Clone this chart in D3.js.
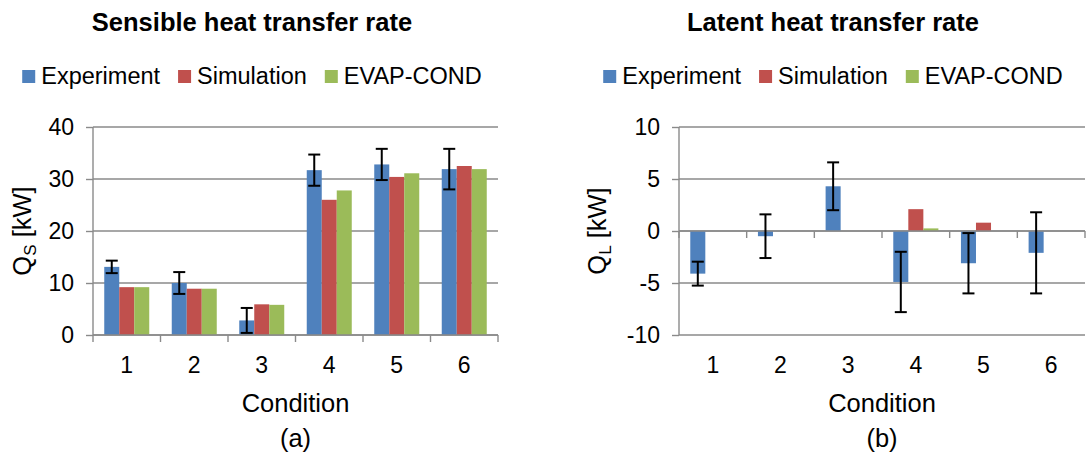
<!DOCTYPE html>
<html>
<head>
<meta charset="utf-8">
<script src="https://cdn.jsdelivr.net/npm/d3@7"></script>
<style>
  html, body { margin: 0; padding: 0; background: #fff; }
  svg { display: block; font-family: "Liberation Sans", Arial, sans-serif; }
  svg text { font-family: "Liberation Sans", Arial, sans-serif; fill: #000; }
</style>
</head>
<body>
<svg id="chart" width="1089" height="456"></svg>
<script>
// Conditions on the category axis
const categories = ["1", "2", "3", "4", "5", "6"];
const seriesNames = ["Experiment", "Simulation", "EVAP-COND"];
const seriesColors = ["#4F81BD", "#C0504D", "#9BBB59"];

// Sensible heat transfer rate [kW]
const sensibleExperiment = [13.1, 10.0, 2.8, 31.7, 32.8, 31.9];
const sensibleExperimentErr = [1.2, 2.1, 2.4, 3.0, 3.0, 3.9];
const sensibleSimulation = [9.2, 8.9, 5.9, 26.0, 30.4, 32.5];
const sensibleEvapCond = [9.2, 8.9, 5.8, 27.8, 31.1, 31.9];
const sensibleTicks = [0, 10, 20, 30, 40];

// Latent heat transfer rate [kW]
const latentExperiment = [-4.1, -0.5, 4.3, -4.9, -3.1, -2.1];
const latentExperimentErr = [1.15, 2.1, 2.3, 2.9, 2.9, 3.9];
const latentSimulation = [0, 0, 0, 2.1, 0.8, 0];
const latentEvapCond = [0, 0, 0, 0.25, 0, 0];
const latentTicks = [-10, -5, 0, 5, 10];

const svg = d3.select("#chart");
const gridColor = "#8A8A8A";
const fmt = d => String(d); // plain hyphen-minus, as in spreadsheet output

function drawPanel(opt) {
  const g = svg.append("g");
  const x = d3.scaleBand().domain(categories).range([opt.left, opt.right]).padding(0);
  const bw = x.bandwidth();
  const pad = bw / 6;
  const xs = d3.scaleBand().domain(seriesNames).range([pad, bw - pad]).padding(0);
  const y = d3.scaleLinear().domain(opt.domain).range([opt.bottom, opt.top]);

  // title
  g.append("text")
    .attr("x", opt.center).attr("y", 31)
    .attr("text-anchor", "middle")
    .attr("font-weight", "bold").attr("font-size", 25.5)
    .text(opt.title);

  // legend, laid out left to right and centred on the panel
  const leg = g.append("g");
  let cx = 0;
  seriesNames.forEach((name, i) => {
    leg.append("rect").attr("x", cx).attr("y", 70).attr("width", 13).attr("height", 13)
      .attr("fill", seriesColors[i]);
    const t = leg.append("text").attr("x", cx + 19).attr("y", 84)
      .attr("font-size", 23.5).text(name);
    cx += 19 + t.node().getComputedTextLength() + 18;
  });
  const legW = cx - 18;
  leg.attr("transform", `translate(${opt.center - legW / 2},0)`);

  // value axis ticks and labels
  const yAxis = d3.axisLeft(y).tickValues(opt.ticks).tickSize(7).tickPadding(12).tickFormat(fmt);
  const ya = g.append("g").attr("transform", `translate(${opt.left},0)`).call(yAxis);
  ya.attr("font-family", null).attr("font-size", null);
  ya.select(".domain").remove();
  ya.selectAll(".tick line").attr("stroke", gridColor).attr("stroke-width", 1.4);
  ya.selectAll(".tick text").attr("font-size", 23).attr("fill", "#000");

  // horizontal gridlines
  g.append("g").selectAll("line").data(opt.ticks).join("line")
    .attr("x1", opt.left).attr("x2", opt.right)
    .attr("y1", d => y(d)).attr("y2", d => y(d))
    .attr("stroke", gridColor).attr("stroke-width", 1.4);

  // bars
  const series = [opt.exp, opt.sim, opt.evap];
  series.forEach((vals, si) => {
    g.append("g").selectAll("rect").data(vals).join("rect")
      .attr("x", (d, i) => x(categories[i]) + xs(seriesNames[si]))
      .attr("width", xs.bandwidth())
      .attr("y", d => Math.min(y(d), y(0)))
      .attr("height", d => Math.abs(y(d) - y(0)))
      .attr("fill", seriesColors[si]);
  });

  // category axis on the zero line
  const y0 = y(0);
  g.append("line").attr("x1", opt.left).attr("x2", opt.right)
    .attr("y1", y0).attr("y2", y0).attr("stroke", gridColor).attr("stroke-width", 1.4);
  const bounds = categories.map(c => x(c)).concat([opt.right]);
  g.append("g").selectAll("line").data(bounds).join("line")
    .attr("x1", d => d).attr("x2", d => d)
    .attr("y1", y0).attr("y2", y0 + 7)
    .attr("stroke", gridColor).attr("stroke-width", 1.4);
  // value axis line
  g.append("line").attr("x1", opt.left).attr("x2", opt.left)
    .attr("y1", opt.top).attr("y2", opt.bottom)
    .attr("stroke", gridColor).attr("stroke-width", 1.4);

  // error bars on the experimental series
  const eb = g.append("g").attr("stroke", "#000").attr("stroke-width", 2);
  opt.exp.forEach((v, i) => {
    const cxm = x(categories[i]) + xs("Experiment") + xs.bandwidth() / 2;
    const hi = y(v + opt.err[i]), lo = y(v - opt.err[i]);
    eb.append("line").attr("x1", cxm).attr("x2", cxm).attr("y1", hi).attr("y2", lo);
    eb.append("line").attr("x1", cxm - 6).attr("x2", cxm + 6).attr("y1", hi).attr("y2", hi);
    eb.append("line").attr("x1", cxm - 6).attr("x2", cxm + 6).attr("y1", lo).attr("y2", lo);
  });

  // category labels
  g.append("g").selectAll("text").data(categories).join("text")
    .attr("x", d => x(d) + bw / 2).attr("y", 373)
    .attr("text-anchor", "middle").attr("font-size", 23).text(d => d);

  // axis titles
  const mid = (opt.left + opt.right) / 2;
  g.append("text").attr("x", mid).attr("y", 412).attr("text-anchor", "middle")
    .attr("font-size", 25.5).text("Condition");
  g.append("text").attr("x", mid).attr("y", 447).attr("text-anchor", "middle")
    .attr("font-size", 25.5).text(opt.tag);

  const yt = g.append("text")
    .attr("transform", `translate(${opt.yTitleX},${(opt.top + opt.bottom) / 2}) rotate(-90)`)
    .attr("text-anchor", "middle").attr("font-size", 25.5);
  yt.append("tspan").text("Q");
  yt.append("tspan").attr("font-size", 17).attr("dy", 5).text(opt.sub);
  yt.append("tspan").attr("dy", -5).text(" [kW]");
}

drawPanel({
  title: "Sensible heat transfer rate", center: 252, tag: "(a)",
  left: 93, right: 498, top: 127, bottom: 335,
  domain: [0, 40], ticks: sensibleTicks, yTitleX: 31, sub: "S",
  exp: sensibleExperiment, err: sensibleExperimentErr,
  sim: sensibleSimulation, evap: sensibleEvapCond
});

drawPanel({
  title: "Latent heat transfer rate", center: 833, tag: "(b)",
  left: 679, right: 1085, top: 127, bottom: 335,
  domain: [-10, 10], ticks: latentTicks, yTitleX: 606, sub: "L",
  exp: latentExperiment, err: latentExperimentErr,
  sim: latentSimulation, evap: latentEvapCond
});
</script>
</body>
</html>
